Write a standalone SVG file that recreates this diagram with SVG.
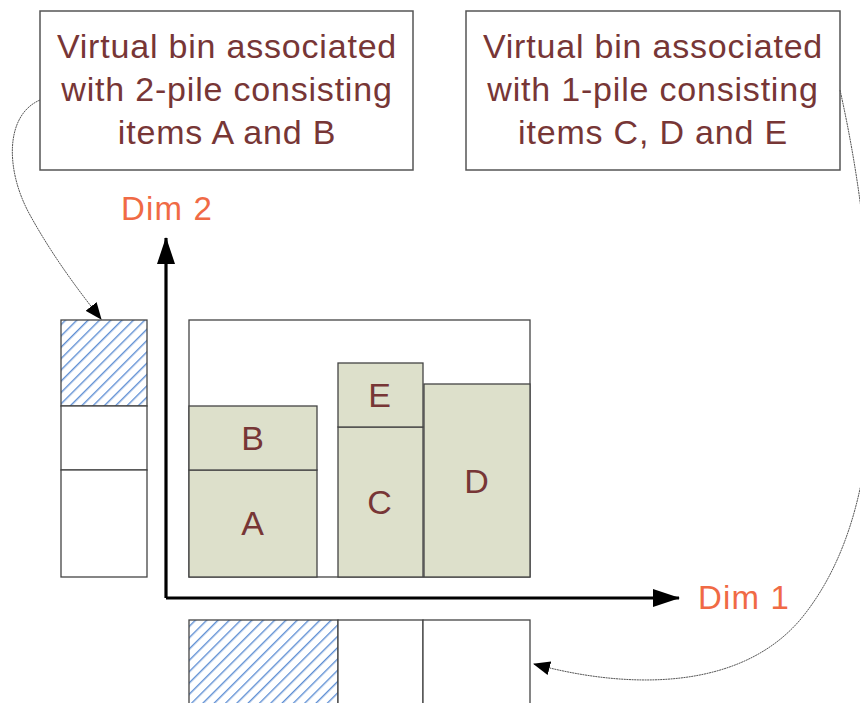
<svg xmlns="http://www.w3.org/2000/svg" width="860" height="703" viewBox="0 0 860 703">
  <defs>
    <style>
      .note { fill: #ffffff; stroke: #555555; stroke-width: 1.5; }
      .label { font-family: "Liberation Sans", Arial, sans-serif; font-size: 34px; letter-spacing: 0.8px; fill: #773636; text-anchor: middle; }
      .dim { font-family: "Liberation Sans", Arial, sans-serif; font-size: 33px; letter-spacing: 1.2px; fill: #f06a45; }
      .item { fill: #dde0cb; stroke: #444444; stroke-width: 1.3; }
      .cell { fill: #ffffff; stroke: #444444; stroke-width: 1.3; }
      .hatched { fill: url(#hatch); stroke: #444444; stroke-width: 1.3; }
      .axis { fill: none; stroke: #000000; stroke-width: 3.2; }
      .link { fill: none; stroke: #555555; stroke-width: 1; stroke-dasharray: 2 0.6; }
    </style>
    <pattern id="hatch" patternUnits="userSpaceOnUse" width="8" height="8" patternTransform="rotate(45)">
      <rect width="8" height="8" fill="#ffffff"/>
      <line x1="0" y1="0" x2="0" y2="8" stroke="#5f8fd4" stroke-width="2.8"/>
    </pattern>
    <marker id="bigArrow" markerUnits="userSpaceOnUse" markerWidth="28" markerHeight="18" refX="26" refY="9" orient="auto">
      <path d="M0,0 L27,9 L0,18 Z" fill="#000000"/>
    </marker>
    <marker id="smallArrow" markerUnits="userSpaceOnUse" markerWidth="18" markerHeight="14" refX="16" refY="7" orient="auto">
      <path d="M0,0 L17,7 L0,14 Z" fill="#000000"/>
    </marker>
  </defs>

  <rect width="860" height="703" fill="#ffffff"/>

  <!-- annotation boxes -->
  <g id="note-2pile">
    <rect class="note" x="40" y="11" width="373" height="159"/>
    <text class="label" x="227" y="58">Virtual bin associated</text>
    <text class="label" x="227" y="101">with 2-pile consisting</text>
    <text class="label" x="227" y="144">items A and B</text>
  </g>
  <g id="note-1pile">
    <rect class="note" x="466" y="11" width="374" height="159"/>
    <text class="label" x="653" y="58">Virtual bin associated</text>
    <text class="label" x="653" y="101">with 1-pile consisting</text>
    <text class="label" x="653" y="144">items C, D and E</text>
  </g>

  <!-- bin outline -->
  <g id="bin">
    <rect class="cell" x="189" y="320" width="341" height="257"/>
  </g>

  <!-- packed items -->
  <g id="item-A">
    <rect class="item" x="189" y="470" width="128" height="107"/>
    <text class="label" x="253" y="535">A</text>
  </g>
  <g id="item-B">
    <rect class="item" x="189" y="406" width="128" height="64"/>
    <text class="label" x="253" y="450">B</text>
  </g>
  <g id="item-C">
    <rect class="item" x="338" y="427" width="85" height="150"/>
    <text class="label" x="380" y="514">C</text>
  </g>
  <g id="item-E">
    <rect class="item" x="338" y="363" width="85" height="64"/>
    <text class="label" x="380" y="407">E</text>
  </g>
  <g id="item-D">
    <rect class="item" x="424" y="384" width="106" height="193"/>
    <text class="label" x="477" y="493">D</text>
  </g>

  <!-- projection onto Dim 2 -->
  <g id="stack-dim2">
    <rect class="hatched" x="61" y="320" width="86" height="86"/>
    <rect class="cell" x="61" y="406" width="86" height="64"/>
    <rect class="cell" x="61" y="470" width="86" height="107"/>
  </g>

  <!-- projection onto Dim 1 -->
  <g id="row-dim1">
    <rect class="hatched" x="189" y="620" width="149" height="90"/>
    <rect class="cell" x="338" y="620" width="85" height="90"/>
    <rect class="cell" x="423" y="620" width="107" height="90"/>
  </g>

  <!-- axes -->
  <g id="axes">
    <path class="axis" d="M166,598 L166,238" marker-end="url(#bigArrow)"/>
    <path class="axis" d="M166,598 L679,598" marker-end="url(#bigArrow)"/>
    <text class="dim" x="121" y="220">Dim 2</text>
    <text class="dim" x="698" y="609">Dim 1</text>
  </g>

  <!-- connectors -->
  <g id="connectors">
    <path class="link" d="M40,100 C5,115 5,170 30,215 C52,255 78,290 101,319" marker-end="url(#smallArrow)"/>
    <path class="link" d="M840,90 C858,170 870,260 872,350 C874,470 850,560 800,620 C740,690 630,690 534,664" marker-end="url(#smallArrow)"/>
  </g>
</svg>
